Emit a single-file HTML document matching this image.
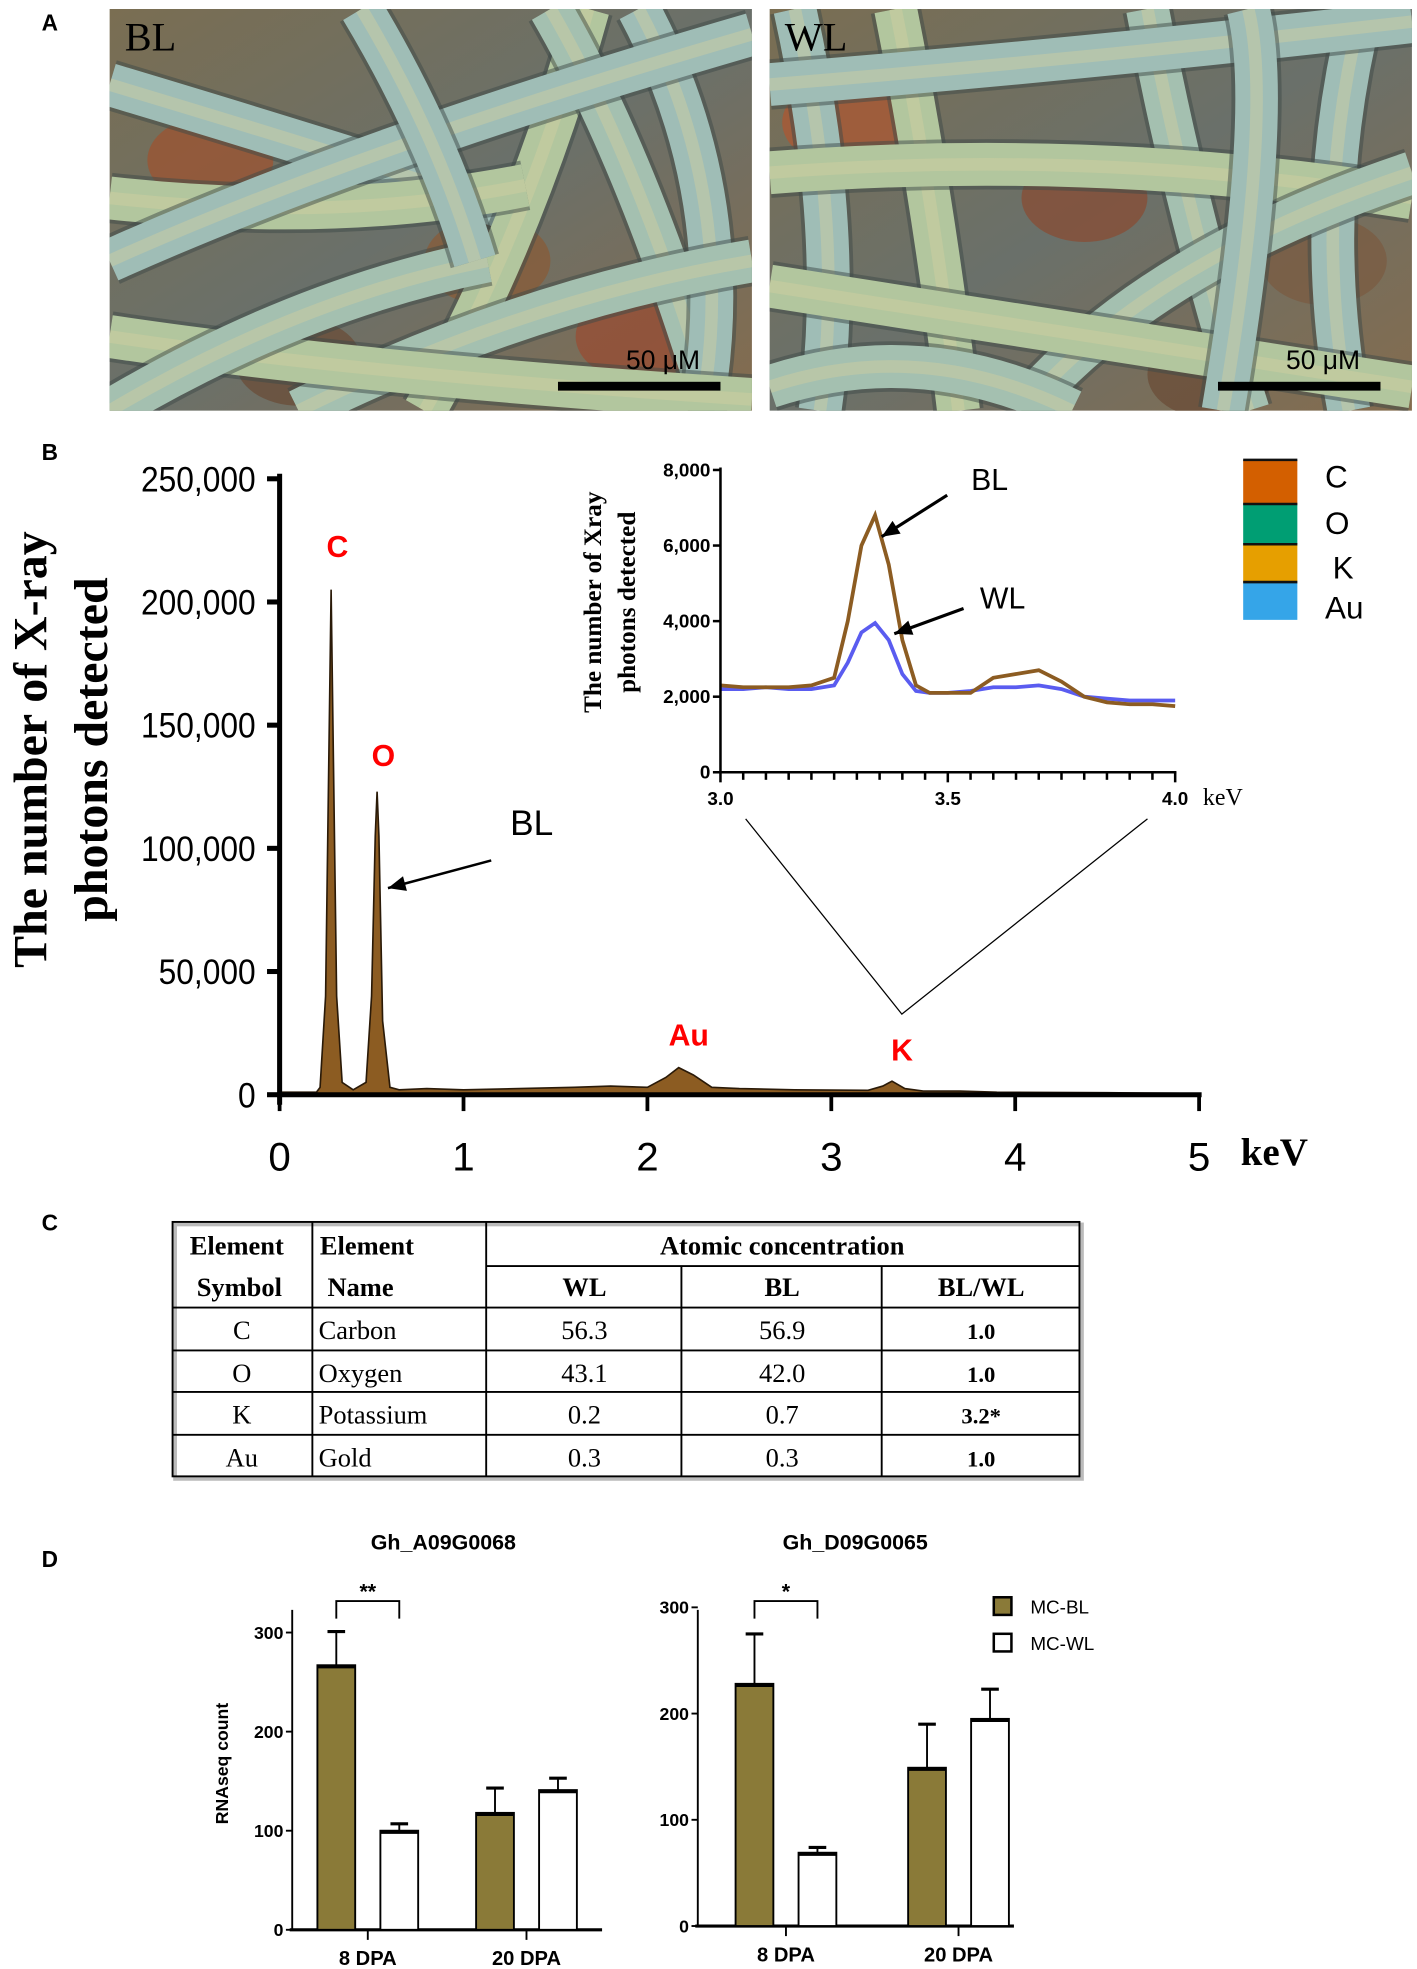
<!DOCTYPE html>
<html><head><meta charset="utf-8"><style>
html,body{margin:0;padding:0;background:#fff}
svg{display:block}
.sans{font-family:"Liberation Sans",sans-serif}
.serif{font-family:"Liberation Serif",serif}
</style></head><body>
<svg id="fig" width="1417" height="1969" viewBox="0 0 1125 1563" xmlns="http://www.w3.org/2000/svg">
<defs>
<linearGradient id="bgA" x1="0" y1="0" x2="1" y2="1"><stop offset="0" stop-color="#7a6e52"/><stop offset="0.5" stop-color="#6a706a"/><stop offset="1" stop-color="#846c4e"/></linearGradient>
<linearGradient id="fib" x1="0" y1="0" x2="1" y2="1"><stop offset="0" stop-color="#a6c4b6"/><stop offset="0.5" stop-color="#b8c49a"/><stop offset="1" stop-color="#9cbcc0"/></linearGradient>
</defs>
<text x="33" y="24" class="sans" font-size="18" font-weight="bold">A</text>
<g id="photos"></g>
<text x="33" y="365" class="sans" font-size="18" font-weight="bold">B</text>
<g id="spec"></g>
<text x="33" y="977" class="sans" font-size="18" font-weight="bold">C</text>
<g id="table"></g>
<text x="33" y="1244" class="sans" font-size="18" font-weight="bold">D</text>
<g id="bars"></g>
</svg>
<script>
// ===== data =====
const specKeV=[0,0.2,0.22,0.25,0.27,0.28,0.29,0.31,0.34,0.4,0.47,0.5,0.52,0.53,0.54,0.56,0.6,0.65,0.8,1.0,1.3,1.6,1.8,2.0,2.1,2.17,2.25,2.35,2.5,2.8,3.2,3.28,3.33,3.4,3.5,3.7,3.9,4.5,5.0];
const specCounts=[1000,1000,3000,40000,150000,205000,150000,40000,5000,2000,5000,40000,105000,123000,105000,30000,3000,2000,2500,2000,2500,3000,3500,3000,7000,11000,8000,3000,2500,2000,1800,3500,5500,2500,1500,1500,1000,800,500];
const specYTicks=[0,50000,100000,150000,200000,250000];
const specXTicks=[0,1,2,3,4,5];
const insetKeV=[3.0,3.05,3.1,3.15,3.2,3.25,3.28,3.31,3.34,3.37,3.4,3.43,3.46,3.5,3.55,3.6,3.65,3.7,3.75,3.8,3.85,3.9,3.95,4.0];
const insetBL=[2300,2250,2250,2250,2300,2500,4000,6000,6800,5500,3500,2300,2100,2100,2100,2500,2600,2700,2400,2000,1850,1800,1800,1750];
const insetWL=[2200,2200,2250,2200,2200,2300,2900,3700,3950,3500,2600,2150,2100,2100,2150,2250,2250,2300,2200,2000,1950,1900,1900,1900];
const insetYTicks=[0,2000,4000,6000,8000];
const insetXTicks=[3.0,3.5,4.0];
const peakLabels=["C","O","Au","K"];
const peakKeV=[0.28,0.53,2.17,3.33];
const groups=["8 DPA","20 DPA"];
const a09BL=[267,118], a09BLerr=[301,143], a09WL=[100,141], a09WLerr=[107,153];
const d09BL=[228,149], d09BLerr=[275,190], d09WL=[69,195], d09WLerr=[74,223];
const barTicks=[0,100,200,300];

const NS="http://www.w3.org/2000/svg";
function mk(parent,tag,attrs,text){const e=document.createElementNS(NS,tag);for(const k in attrs)e.setAttribute(k,attrs[k]);if(text!==undefined)e.textContent=text;parent.appendChild(e);return e;}
const fmt=v=>v.toLocaleString('en-US');

// ===== photos =====
const ph=document.getElementById('photos');
function photo(x0,label,seed){
  const g=mk(ph,'g',{});
  
  
  const cpe=mk(g,'clipPath',{id:'cp'+label});
  mk(cpe,'rect',{x:x0,y:7,width:510,height:319});
  const inner=mk(g,'g',{'clip-path':'url(#cp'+label+')'});
  mk(inner,'rect',{x:x0,y:7,width:510,height:319,fill:'url(#bgA)'});
  const blobs=seed?[[80,120,'#a0512e'],[300,200,'#8a5a35'],[420,260,'#9a4a30'],[150,280,'#6a4a35']]:[[60,90,'#b0562f'],[250,150,'#8a4a30'],[440,200,'#7a5a40'],[350,290,'#6a4a35']];
  blobs.forEach(b=>mk(inner,'ellipse',{cx:x0+b[0],cy:7+b[1],rx:50,ry:35,fill:b[2],opacity:0.7}));
  const fibers=seed?[
   [[0,60],[200,120],[320,160]],[[250,319],[330,180],[380,0]],[[350,0],[420,120],[480,319]],[[420,0],[500,150],[470,319]],
   [[0,150],[180,170],[330,140]],[[150,319],[330,230],[510,200]],[[0,200],[200,110],[510,20]],[[0,260],[200,290],[510,310]],[[0,319],[150,230],[300,200]],[[200,0],[260,100],[290,200]]
  ]:[
   [[40,319],[60,180],[20,0]],[[100,0],[130,150],[150,319]],[[300,0],[330,160],[380,319]],[[470,0],[430,160],[460,319]],
   [[0,130],[260,110],[510,150]],[[200,319],[300,200],[510,130]],[[0,60],[250,40],[510,10]],[[0,220],[250,260],[510,300]],[[0,300],[120,260],[240,319]],[[380,0],[400,80],[360,319]]
  ];
  fibers.forEach((f,i)=>{
    const d=`M${x0+f[0][0]},${7+f[0][1]} Q${x0+f[1][0]},${7+f[1][1]} ${x0+f[2][0]},${7+f[2][1]}`;
    mk(inner,'path',{d,stroke:'#3e4a48',"stroke-width":40,fill:'none',opacity:0.5});
    mk(inner,'path',{d,stroke:i%3==0?'#9fbdb6':(i%3==1?'#b2c69e':'#a4c0b0'),"stroke-width":34,fill:'none'});
    mk(inner,'path',{d,stroke:'#d0cfa0',"stroke-width":10,fill:'none',opacity:0.45});
  });
  const t=mk(g,'text',{x:x0+12,y:40,class:'serif','font-size':32},label);
  
  mk(g,'rect',{x:x0+356,y:303,width:129,height:7,fill:'#000'});
  const s=mk(g,'text',{x:x0+410,y:293,class:'sans','font-size':21},'50 μM');
  
}
photo(87,'BL',1);photo(611,'WL',0);

// ===== spectrum =====
const sp=document.getElementById('spec');
const X=k=>222+k*(952-222)/5, Y=v=>869-v*(869-380)/250000;
let d=`M${X(specKeV[0])},${Y(0)}`;specKeV.forEach((k,i)=>d+=` L${X(k)},${Y(specCounts[i])}`);d+=` L${X(5)},${Y(0)} Z`;
const area=mk(sp,'path',{d,fill:'#8c5c22',stroke:'#2a1a08','stroke-width':1.3});

mk(sp,'line',{x1:222,y1:376,x2:222,y2:877,stroke:'#000','stroke-width':4});
mk(sp,'line',{x1:220,y1:869,x2:954,y2:869,stroke:'#000','stroke-width':4});
specYTicks.forEach(v=>{mk(sp,'line',{x1:212,y1:Y(v),x2:222,y2:Y(v),stroke:'#000','stroke-width':4});
 const t=mk(sp,'text',{x:203,y:Y(v)+10,'text-anchor':'end',class:'sans','font-size':28,transform:`translate(${203*0.1},0) scale(0.9,1)`,},fmt(v));
 t.setAttribute('x',203/0.9-203*0.1/0.9);
 });
specXTicks.forEach(v=>{mk(sp,'line',{x1:X(v),y1:869,x2:X(v),y2:882,stroke:'#000','stroke-width':3});
 const t=mk(sp,'text',{x:X(v),y:929,'text-anchor':'middle',class:'sans','font-size':32},String(v));
 });
let t=mk(sp,'text',{x:985,y:925,class:'serif','font-size':31,'font-weight':'bold'},'keV');
const yt=mk(sp,'g',{transform:'translate(0,595) rotate(-90)'});
mk(yt,'text',{x:0,y:37,'text-anchor':'middle',class:'serif','font-size':38,'font-weight':'bold'},'The number of X-ray');
mk(yt,'text',{x:0,y:85,'text-anchor':'middle',class:'serif','font-size':38,'font-weight':'bold'},'photons detected');
const pkY=[442,608,830,842];
peakLabels.forEach((p,i)=>{const e=mk(sp,'text',{x:X(peakKeV[i])+(i<2?5:8),y:pkY[i],'text-anchor':'middle',class:'sans','font-size':24,'font-weight':'bold',fill:'#f00'},p);
 });
t=mk(sp,'text',{x:405,y:663,class:'sans','font-size':28},'BL');
function arrow(g,x1,y1,x2,y2,w){mk(g,'line',{x1,y1,x2,y2,stroke:'#000','stroke-width':w});
 const a=Math.atan2(y2-y1,x2-x1),L=14,W=6;const p=[[x2,y2],[x2-L*Math.cos(a)+W*Math.sin(a),y2-L*Math.sin(a)-W*Math.cos(a)],[x2-L*Math.cos(a)-W*Math.sin(a),y2-L*Math.sin(a)+W*Math.cos(a)]];
 mk(g,'polygon',{points:p.map(q=>q.join(',')).join(' '),fill:'#000'});}
arrow(sp,390,683,308,705,2);
// inset
const IX=k=>572+(k-3)*(933-572), IY=v=>613-v*(613-373)/8000;
const ins=mk(sp,'g',{});
function line(arr,col,name){let dd='';insetKeV.forEach((k,i)=>dd+=(i?' L':'M')+IX(k)+','+IY(arr[i]));
 const p=mk(ins,'path',{d:dd,fill:'none',stroke:col,'stroke-width':3});}
line(insetWL,'#5a5cf0','wl-line');line(insetBL,'#8c5c22','bl-line');
mk(ins,'line',{x1:572,y1:371,x2:572,y2:614,stroke:'#000','stroke-width':2});
mk(ins,'line',{x1:571,y1:613,x2:934,y2:613,stroke:'#000','stroke-width':2});
insetYTicks.forEach(v=>{mk(ins,'line',{x1:566,y1:IY(v),x2:572,y2:IY(v),stroke:'#000','stroke-width':2});
 const e=mk(ins,'text',{x:564,y:IY(v)+5,'text-anchor':'end',class:'sans','font-size':15,'font-weight':'bold'},fmt(v));});
for(let k=0;k<=20;k++){const x=572+k*(933-572)/20;mk(ins,'line',{x1:x,y1:613,x2:x,y2:k%10==0?621:619,stroke:'#000','stroke-width':2});}
insetXTicks.forEach(v=>{const e=mk(ins,'text',{x:IX(v),y:639,'text-anchor':'middle',class:'sans','font-size':15,'font-weight':'bold'},v.toFixed(1));});
t=mk(ins,'text',{x:955,y:639,class:'serif','font-size':19},'keV');
const iyt=mk(ins,'g',{transform:'translate(0,478) rotate(-90)'});
mk(iyt,'text',{x:0,y:477,'text-anchor':'middle',class:'serif','font-size':20,'font-weight':'bold'},'The  number of Xray');
mk(iyt,'text',{x:0,y:504,'text-anchor':'middle',class:'serif','font-size':20,'font-weight':'bold'},'photons detected');
t=mk(ins,'text',{x:771,y:389,class:'sans','font-size':24},'BL');
arrow(ins,752,393,700,426,2.5);
t=mk(ins,'text',{x:778,y:483,class:'sans','font-size':24},'WL');
arrow(ins,765,483,710,503,2.5);
mk(sp,'polyline',{points:'592,650 716,805 911,650',fill:'none',stroke:'#000','stroke-width':1});
// legend
const lg=mk(sp,'g',{});
[['C','#d35f00',365,400,378],['O','#009e73',400,432,415],['K','#e69f00',432,462,450],['Au','#35a5e8',462,492,482]].forEach(r=>{
 mk(lg,'rect',{x:987,y:r[2],width:43,height:r[3]-r[2],fill:r[1]});
 mk(lg,'line',{x1:987,y1:r[2],x2:1030,y2:r[2],stroke:'#111','stroke-width':2});
 const e=mk(lg,'text',{x:r[0]=='K'?1058:1052,y:r[4]+9,class:'sans','font-size':25},r[0]);});

// ===== table =====
const tb=document.getElementById('table');
const tg=mk(tb,'g',{});
const rows=[970,1005,1038,1072,1105,1139,1172];
mk(tg,'rect',{x:139,y:972,width:720,height:202,fill:'none',stroke:'#bbb','stroke-width':3});
mk(tg,'rect',{x:137,y:970,width:720,height:202,fill:'none',stroke:'#000','stroke-width':1.5});
rows.slice(2,6).forEach(y=>mk(tg,'line',{x1:137,y1:y,x2:857,y2:y,stroke:'#000','stroke-width':1.5}));
mk(tg,'line',{x1:386,y1:1005,x2:857,y2:1005,stroke:'#000','stroke-width':1.5});
[248,386].forEach(x=>mk(tg,'line',{x1:x,y1:970,x2:x,y2:1172,stroke:'#000','stroke-width':1.5}));
[541,700].forEach(x=>mk(tg,'line',{x1:x,y1:1005,x2:x,y2:1172,stroke:'#000','stroke-width':1.5}));
const H=(x,y,s,a)=>mk(tg,'text',{x,y,'text-anchor':a||'middle',class:'serif','font-size':21,'font-weight':'bold'},s);
H(188,996,'Element');H(254,996,'Element','start');H(621,996,'Atomic concentration');
H(190,1029,'Symbol');H(260,1029,'Name','start');H(464,1029,'WL');H(621,1029,'BL');H(779,1029,'BL/WL');
const tbl=[['C','Carbon','56.3','56.9','1.0'],['O','Oxygen','43.1','42.0','1.0'],['K','Potassium','0.2','0.7','3.2*'],['Au','Gold','0.3','0.3','1.0']];
tbl.forEach((r,i)=>{const y=rows[i+2]+25;
 mk(tg,'text',{x:192,y,'text-anchor':'middle',class:'serif','font-size':21},r[0]);
 mk(tg,'text',{x:253,y,class:'serif','font-size':21},r[1]);
 mk(tg,'text',{x:464,y,'text-anchor':'middle',class:'serif','font-size':21},r[2]);
 mk(tg,'text',{x:621,y,'text-anchor':'middle',class:'serif','font-size':21},r[3]);
 mk(tg,'text',{x:779,y,'text-anchor':'middle',class:'serif','font-size':18,'font-weight':'bold'},r[4]);});

// ===== bar charts =====
const bg=document.getElementById('bars');
function barChart(title,ax,y0,y300,xEnd,centers,BL,BLe,WL,WLe,stars,titleX,yTitle){
 const g=mk(bg,'g',{});
 const YY=v=>y0-v*(y0-y300)/300;
 let e=mk(g,'text',{x:titleX,y:1230,'text-anchor':'middle',class:'sans','font-size':17,'font-weight':'bold'},title);
 mk(g,'line',{x1:ax,y1:1278,x2:ax,y2:y0,stroke:'#000','stroke-width':1.5});
 mk(g,'line',{x1:ax-2,y1:y0,x2:xEnd,y2:y0,stroke:'#000','stroke-width':2.5});
 barTicks.forEach(v=>{mk(g,'line',{x1:ax-5,y1:YY(v),x2:ax,y2:YY(v),stroke:'#000','stroke-width':1.5});
  const q=mk(g,'text',{x:ax-7,y:YY(v)+5,'text-anchor':'end',class:'sans','font-size':14,'font-weight':'bold'},String(v));});
 groups.forEach((gname,i)=>{const c=centers[i];
  mk(g,'line',{x1:c,y1:y0,x2:c,y2:y0+8,stroke:'#000','stroke-width':1.5});
  const q=mk(g,'text',{x:c,y:y0+28,'text-anchor':'middle',class:'sans','font-size':16,'font-weight':'bold'},gname);
  [[c-40,BL[i],BLe[i],'#8a7a38','bl'],[c+10,WL[i],WLe[i],'#fff','wl']].forEach(b=>{
   const xm=b[0]+15;
   mk(g,'line',{x1:xm,y1:YY(b[1]),x2:xm,y2:YY(b[2]),stroke:'#000','stroke-width':1.5});
   mk(g,'line',{x1:xm-7,y1:YY(b[2]),x2:xm+7,y2:YY(b[2]),stroke:'#000','stroke-width':2.5});
   const r=mk(g,'rect',{x:b[0],y:YY(b[1]),width:30,height:y0-YY(b[1]),fill:b[3],stroke:'#000','stroke-width':1.5});
   
   mk(g,'line',{x1:b[0],y1:YY(b[1])+1,x2:b[0]+30,y2:YY(b[1])+1,stroke:'#000','stroke-width':3});
  });});
 const c=centers[0];
 mk(g,'polyline',{points:`${c-25},1285 ${c-25},1271 ${c+25},1271 ${c+25},1285`,fill:'none',stroke:'#000','stroke-width':1.5});
 e=mk(g,'text',{x:c,y:1269,'text-anchor':'middle',class:'sans','font-size':17,'font-weight':'bold'},stars);
 if(yTitle){const q=mk(g,'text',{transform:`translate(181,1400) rotate(-90)`,'text-anchor':'middle',class:'sans','font-size':14,'font-weight':'bold'},yTitle);}
}
barChart('Gh_A09G0068',232,1532,1296,478,[292,418],a09BL,a09BLerr,a09WL,a09WLerr,'**',352,'RNAseq count');
barChart('Gh_D09G0065',554,1529,1276,805,[624,761],d09BL,d09BLerr,d09WL,d09WLerr,'*',679,null);
const bl=mk(bg,'g',{});
mk(bl,'rect',{x:789,y:1268,width:14,height:14,fill:'#8a7a38',stroke:'#000','stroke-width':2});
mk(bl,'text',{x:818,y:1281,class:'sans','font-size':15},'MC-BL');
mk(bl,'rect',{x:789,y:1297,width:14,height:14,fill:'#fff',stroke:'#000','stroke-width':2});
mk(bl,'text',{x:818,y:1310,class:'sans','font-size':15},'MC-WL');
</script>
</body></html>
